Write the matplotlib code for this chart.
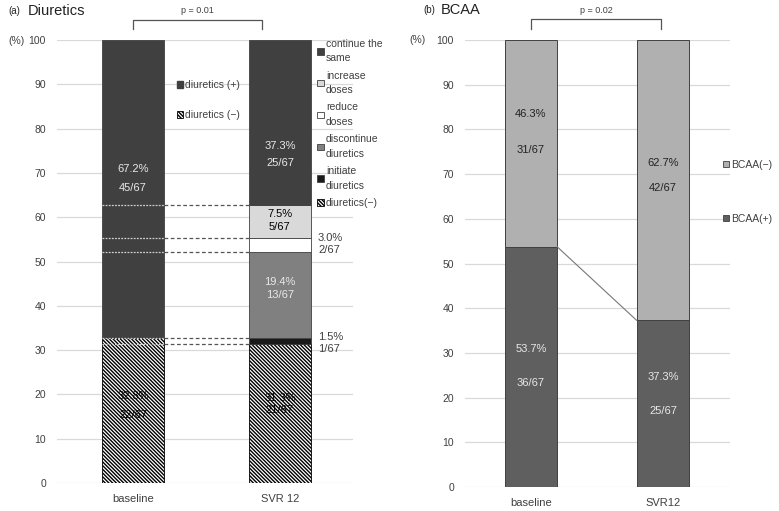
import matplotlib
matplotlib.use('Agg')
import matplotlib.pyplot as plt
from matplotlib.patches import Patch
import matplotlib.transforms as mtransforms
import numpy as np

plt.rcParams['font.family'] = ['Liberation Sans', 'DejaVu Sans']
plt.rcParams['hatch.linewidth'] = 1.0

# ---- data: (a) diuretics ----
groups_a = ['baseline', 'SVR 12']
seg_names = ['diuretics(−)', 'initiate\ndiuretics', 'discontinue\ndiuretics',
             'reduce\ndoses', 'increase\ndoses', 'continue the\nsame']
base_neg = 32.8
base_pos = 67.2
svr_vals = [31.3, 1.5, 19.4, 3.0, 7.5, 37.3]
svr_counts = ['21/67', '1/67', '13/67', '2/67', '5/67', '25/67']
base_counts = ['22/67', '45/67']

# ---- data: (b) BCAA ----
groups_b = ['baseline', 'SVR12']
bcaa_pos = [53.7, 37.3]
bcaa_neg = [46.3, 62.7]
bcaa_pos_counts = ['36/67', '25/67']
bcaa_neg_counts = ['31/67', '42/67']

TXT = '#404040'
GRID = '#d9d9d9'
HATCH = '\\' * 9
seg_colors = ['white', '#1a1a1a', '#808080', 'white', '#d9d9d9', '#404040']
seg_edges = ['black', '#404040', '#404040', '#404040', '#404040', '#404040']
seg_hatch = [HATCH, None, None, None, None, None]

fig = plt.figure(figsize=(7.79, 5.11), dpi=100)
ax1 = fig.add_axes([57 / 779, 1 - 483 / 511, 296 / 779, 443 / 511])
ax2 = fig.add_axes([465 / 779, 1 - 487 / 511, 265 / 779, 447 / 511])

for ax in (ax1, ax2):
    ax.set_ylim(0, 100)
    ax.set_yticks(np.arange(0, 101, 10))
    ax.yaxis.grid(True, color=GRID, linewidth=0.9)
    ax.set_axisbelow(True)
    for s in ax.spines.values():
        s.set_visible(False)
    ax.tick_params(length=0, labelsize=7.5, colors=TXT, pad=8)

# ---------------- (a) ----------------
w1 = 0.42
x = np.arange(len(groups_a))
ax1.set_xlim(-0.518, 1.498)
ax1.bar(0, base_neg, w1, color='white', edgecolor='black', hatch=HATCH, linewidth=0.6)
ax1.bar(0, base_pos, w1, bottom=base_neg, color='#404040', edgecolor='#404040', linewidth=0.6)
bottoms = np.concatenate([[0], np.cumsum(svr_vals)[:-1]])
for v, b, c, e, h in zip(svr_vals, bottoms, seg_colors, seg_edges, seg_hatch):
    ax1.bar(1, v, w1, bottom=b, color=c, edgecolor=e, hatch=h, linewidth=0.6)

# dashed guide lines from baseline bar to SVR bar
tops = np.cumsum(svr_vals)
for lvl in [svr_vals[0], tops[1], tops[2], tops[3], tops[4]]:
    ax1.plot([-w1 / 2, w1 / 2], [lvl, lvl], ls=(0, (1.5, 1)), color='#cfcfcf', lw=0.9, zorder=3)
    ax1.plot([w1 / 2, 1 - w1 / 2], [lvl, lvl], ls=(0, (3, 2)), color='#555555', lw=0.9, zorder=3)

ax1.set_xticks(x)
ax1.set_xticklabels(groups_a, fontsize=8)
ax1.tick_params(axis='x', pad=8)

# bar labels
ax1.text(0, 19.6, f'{base_neg}%', ha='center', va='center', fontsize=8, color='black')
ax1.text(0, 15.3, base_counts[0], ha='center', va='center', fontsize=8, color='black')
ax1.text(0, 70.9, f'{base_pos}%', ha='center', va='center', fontsize=8, color='#e8e8e8')
ax1.text(0, 66.6, base_counts[1], ha='center', va='center', fontsize=8, color='#e8e8e8')

label_y = [(19.2, 16.5), (33.0, 30.2), (45.4, 42.4), (55.3, 52.6), (60.7, 57.8), (76.1, 72.2)]
label_c = ['black', TXT, '#e8e8e8', TXT, 'black', '#e8e8e8']
outside = [False, True, False, True, False, False]
for v, cnt, (yp, yc), c, out in zip(svr_vals, svr_counts, label_y, label_c, outside):
    if out:
        xx, ha = 1 + w1 / 2 + 0.05, 'left'
    else:
        xx, ha = 1, 'center'
    ax1.text(xx, yp, f'{v}%', ha=ha, va='center', fontsize=8, color=c)
    ax1.text(xx, yc, cnt, ha=ha, va='center', fontsize=8, color=c)

# legends (a)
h_right = [Patch(facecolor=c, edgecolor=e, hatch=h, linewidth=0.6)
           for c, e, h in zip(seg_colors, seg_edges, seg_hatch)][::-1]
leg1 = ax1.legend(h_right, seg_names[::-1], loc='upper left', bbox_to_anchor=(0.88, 1.003),
                  frameon=False, fontsize=7.5, handlelength=0.6, handleheight=0.6,
                  handletextpad=0.2, labelspacing=0.72, borderpad=0, borderaxespad=0,
                  labelcolor=TXT)
for t in leg1.get_texts():
    t.set_linespacing(1.55)
ax1.add_artist(leg1)
h_in = [Patch(facecolor='#404040', edgecolor='#404040'),
        Patch(facecolor='white', edgecolor='black', hatch=HATCH, linewidth=0.6)]
ax1.legend(h_in, ['diuretics (+)', 'diuretics (−)'], loc='upper left',
           bbox_to_anchor=(0.405, 0.91), frameon=False, fontsize=7.5, handlelength=0.6,
           handleheight=0.6, handletextpad=0.2, labelspacing=1.95, borderpad=0,
           borderaxespad=0, labelcolor=TXT)

# ---------------- (b) ----------------
w2 = 0.40
xb = np.arange(len(groups_b))
ax2.set_xlim(-0.5, 1.508)
ax2.bar(xb, bcaa_pos, w2, color='#5f5f5f', edgecolor='#404040', linewidth=0.7)
ax2.bar(xb, bcaa_neg, w2, bottom=bcaa_pos, color='#b0b0b0', edgecolor='#404040', linewidth=0.7)
ax2.plot([w2 / 2, 1 - w2 / 2], bcaa_pos, color='#777777', lw=0.8)
ax2.set_xticks(xb)
ax2.set_xticklabels(groups_b, fontsize=8)
ax2.tick_params(axis='x', pad=8)

pos_y = [(30.9, 23.3), (24.6, 17.0)]
neg_y = [(83.4, 75.4), (72.5, 66.9)]
for i in range(2):
    ax2.text(i, pos_y[i][0], f'{bcaa_pos[i]}%', ha='center', va='center', fontsize=8, color='#e8e8e8')
    ax2.text(i, pos_y[i][1], bcaa_pos_counts[i], ha='center', va='center', fontsize=8, color='#e8e8e8')
    ax2.text(i, neg_y[i][0], f'{bcaa_neg[i]}%', ha='center', va='center', fontsize=8, color='#222222')
    ax2.text(i, neg_y[i][1], bcaa_neg_counts[i], ha='center', va='center', fontsize=8, color='#222222')

h_b = [Patch(facecolor='#b0b0b0', edgecolor='#404040', linewidth=0.6),
       Patch(facecolor='#5f5f5f', edgecolor='#404040', linewidth=0.6)]
ax2.legend(h_b, ['BCAA(−)', 'BCAA(+)'], loc='upper left', bbox_to_anchor=(0.972, 0.732),
           frameon=False, fontsize=7.5, handlelength=0.6, handleheight=0.6,
           handletextpad=0.2, labelspacing=4.2, borderpad=0, borderaxespad=0,
           labelcolor=TXT)

# brackets, titles, unit labels
for ax, x0, x1, ptxt in [(ax1, 0, 0.88, 'p = 0.01'), (ax2, 0, 0.985, 'p = 0.02')]:
    tr = mtransforms.blended_transform_factory(ax.transData, ax.transAxes)
    ax.plot([x0, x0, x1, x1], [1.025, 1.046, 1.046, 1.025], color='#555555', lw=0.9,
            transform=tr, clip_on=False)
    ax.text((x0 + x1) / 2, 1.066, ptxt, transform=tr, ha='center', va='center',
            fontsize=6.5, color=TXT)

fig.text(8 / 779, 1 - 11 / 511, '(a)', fontsize=7, color='#222222', va='center')
fig.text(28 / 779, 1 - 11 / 511, 'Diuretics', fontsize=10.5, color='#222222', va='center')
fig.text(423 / 779, 1 - 10 / 511, '(b)', fontsize=7, color='#222222', va='center')
fig.text(441 / 779, 1 - 10 / 511, 'BCAA', fontsize=10.5, color='#222222', va='center')
fig.text(8 / 779, 1 - 41 / 511, '(%)', fontsize=7.5, color=TXT, va='center')
fig.text(409 / 779, 1 - 40 / 511, '(%)', fontsize=7.5, color=TXT, va='center')

fig.savefig('out.png', dpi=100)
